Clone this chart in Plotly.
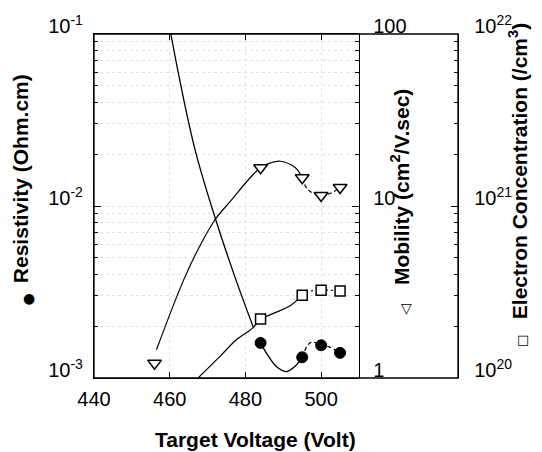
import plotly.graph_objects as go

# ---------------- data ----------------
voltage = [484, 495, 500, 505]
resistivity = [1.60e-3, 1.32e-3, 1.55e-3, 1.40e-3]          # Ohm.cm (filled circles)
concentration = [2.20e20, 3.03e20, 3.24e20, 3.21e20]        # /cm3 (open squares)
mob_voltage = [456, 484, 495, 500, 505]
mobility = [1.22, 16.7, 14.6, 11.5, 12.8]                   # cm2/V.sec (open triangles)

# hand-drawn guide curves of the reference
rho_fit_x = [460.3, 462.9, 466.8, 472.1, 477.4, 482.1]
rho_fit_y = [0.1, 0.0507, 0.0208, 8.4e-3, 3.77e-3, 1.97e-3]
rho_low_x = [484, 485.5, 488.1, 490.7, 492.9, 495]
rho_low_y = [1.60e-3, 1.40e-3, 1.17e-3, 1.09e-3, 1.16e-3, 1.32e-3]
rho_dash_x = [495, 496.2, 497.5, 500, 502, 505]
rho_dash_y = [1.32e-3, 1.52e-3, 1.62e-3, 1.55e-3, 1.52e-3, 1.40e-3]

mob_fit_x = [456.5, 463.8, 468.2, 472.1, 476.1, 480.9, 484, 486.6, 489.2, 493.2, 495]
mob_fit_y = [1.46, 3.77, 6.0, 8.4, 10.7, 14.3, 16.7, 17.8, 18.2, 16.7, 14.6]
mob_dash_x = [495, 496.4, 498.6, 500, 501.7, 503.0, 505]
mob_dash_y = [14.6, 12.5, 11.7, 11.5, 11.7, 12.0, 12.8]

conc_fit_x = [467.5, 473.2, 477.6, 481.9, 484, 486.3, 492.0, 495]
conc_fit_y = [1.0e20, 1.33e20, 1.67e20, 1.95e20, 2.20e20, 2.32e20, 2.65e20, 3.03e20]
conc_dash_x = [495, 496.4, 500, 505]
conc_dash_y = [3.03e20, 3.17e20, 3.24e20, 3.21e20]

x_ticks = [440, 460, 480, 500]
rho_ticks = [1e-3, 1e-2, 1e-1]
rho_text = ["10<sup>-3</sup>", "10<sup>-2</sup>", "10<sup>-1</sup>"]
mob_ticks = [1, 10, 100]
mob_text = ["1", "10", "100"]
conc_ticks = [1e20, 1e21, 1e22]
conc_text = ["10<sup>20</sup>", "10<sup>21</sup>", "10<sup>22</sup>"]

# ---------------- layout geometry ----------------
W, H = 542, 452
L, R, T, B = 94, 84, 32, 74
PW, PH = W - L - R, H - T - B
DIV = (359 - L) / PW          # divider between main plot and mobility box


def px(x, y):
    return (x - L) / PW, (H - B - y) / PH


FONT = "Liberation Sans, Arial, Helvetica, sans-serif"
line = dict(color="black", width=1.3)

fig = go.Figure()

# curves
fig.add_trace(go.Scatter(x=rho_fit_x, y=rho_fit_y, mode="lines", line=dict(color="black", width=1.3, shape="spline"), yaxis="y", showlegend=False))
fig.add_trace(go.Scatter(x=rho_low_x, y=rho_low_y, mode="lines", line=dict(color="black", width=1.3, shape="spline"), yaxis="y", showlegend=False))
fig.add_trace(go.Scatter(x=rho_dash_x, y=rho_dash_y, mode="lines", line=dict(color="black", width=1.3, shape="spline", dash="4px,3px"), yaxis="y", showlegend=False))
fig.add_trace(go.Scatter(x=mob_fit_x, y=mob_fit_y, mode="lines", line=dict(color="black", width=1.2, shape="spline"), yaxis="y2", showlegend=False))
fig.add_trace(go.Scatter(x=mob_dash_x, y=mob_dash_y, mode="lines", line=dict(color="black", width=1.2, shape="spline", dash="4px,3px"), yaxis="y2", showlegend=False))
fig.add_trace(go.Scatter(x=conc_fit_x, y=conc_fit_y, mode="lines", line=dict(color="black", width=1.2, shape="spline"), yaxis="y3", showlegend=False))
fig.add_trace(go.Scatter(x=conc_dash_x, y=conc_dash_y, mode="lines", line=dict(color="black", width=1.2, shape="spline", dash="2px,3px"), yaxis="y3", showlegend=False))

# markers
fig.add_trace(go.Scatter(x=voltage, y=resistivity, mode="markers", yaxis="y", showlegend=False,
                         marker=dict(symbol="circle", size=11, color="black", line=dict(color="black", width=1))))
fig.add_trace(go.Scatter(x=mob_voltage, y=mobility, mode="markers", yaxis="y2", showlegend=False,
                         marker=dict(symbol="triangle-down", size=12, color="white", line=dict(color="black", width=1.5))))
fig.add_trace(go.Scatter(x=voltage, y=concentration, mode="markers", yaxis="y3", showlegend=False,
                         marker=dict(symbol="square", size=10, color="white", line=dict(color="black", width=1.5))))

tickfont = dict(family=FONT, size=20, color="black")
minor = dict(ticks="inside", ticklen=4, tickcolor="black", dtick="D1", showgrid=False)

fig.update_layout(
    width=W, height=H,
    margin=dict(l=L, r=R, t=T, b=B, pad=0),
    paper_bgcolor="white", plot_bgcolor="white",
    font=dict(family=FONT, color="black"),
    xaxis=dict(domain=[0, DIV], range=[440, 510], tickvals=x_ticks, ticks="inside", ticklen=6,
               tickcolor="black", showline=True, linecolor="black", linewidth=1.3, mirror="ticks",
               showgrid=True, gridcolor="#e2e2e2", griddash="dot", zeroline=False, tickfont=tickfont,
               ticklabelstandoff=3),
    yaxis=dict(type="log", range=[-3, -1], tickvals=rho_ticks, ticktext=rho_text, ticks="inside",
               ticklen=7, tickcolor="black", showline=True, linecolor="black", linewidth=1.3,
               showgrid=False, tickfont=tickfont, ticklabelshift=-8, ticklabelstandoff=6,
               minor=dict(ticks="inside", ticklen=4, tickcolor="black", dtick="D1",
                          showgrid=True, gridcolor="#e2e2e2", griddash="dot")),
    yaxis2=dict(type="log", range=[0, 2], overlaying="y", anchor="free", position=DIV, side="right",
                tickvals=mob_ticks, ticktext=mob_text, ticks="inside", ticklen=7, tickcolor="black",
                showline=True, linecolor="black", linewidth=1.3, showgrid=False, tickfont=tickfont,
                ticklabelshift=-8, ticklabelstandoff=9, minor=minor),
    yaxis3=dict(type="log", range=[20, 22], overlaying="y", anchor="free", position=1, side="right",
                tickvals=conc_ticks, ticktext=conc_text, ticks="inside", ticklen=7, tickcolor="black",
                showline=True, linecolor="black", linewidth=1.3, showgrid=False, tickfont=tickfont,
                ticklabelshift=-8, ticklabelstandoff=11, minor=minor),
)

# outer frame of the right box
fig.add_shape(type="rect", xref="paper", yref="paper", x0=0, x1=1, y0=0, y1=1, line=line)

ann = []
x, y = px(255, 440)
ann.append(dict(text="<b>Target Voltage (Volt)</b>", x=x, y=y, font=dict(family=FONT, size=21, color="black")))
x, y = px(20, 178)
ann.append(dict(text="<b>Resistivity (Ohm.cm)</b>", x=x, y=y, textangle=-90, font=dict(family=FONT, size=21, color="black")))
x, y = px(29, 298)
ann.append(dict(text="●", x=x, y=y, font=dict(family="DejaVu Sans", size=14, color="black")))
x, y = px(400, 186)
ann.append(dict(text="<b>Mobility (cm<sup>2</sup>/V.sec)</b>", x=x, y=y, textangle=-90, font=dict(family=FONT, size=21, color="black")))
x, y = px(406, 308)
ann.append(dict(text="▽", x=x, y=y, font=dict(family="DejaVu Sans", size=14, color="black")))
x, y = px(518, 170)
ann.append(dict(text="<b>Electron Concentration (/cm<sup>3</sup>)</b>", x=x, y=y, textangle=-90, font=dict(family=FONT, size=21, color="black")))
x, y = px(523, 339)
ann.append(dict(text="□", x=x, y=y, font=dict(family="DejaVu Sans", size=13, color="black")))
for a in ann:
    a.update(xref="paper", yref="paper", showarrow=False, xanchor="center", yanchor="middle")
fig.update_layout(annotations=ann)

fig.write_html("out.html")
